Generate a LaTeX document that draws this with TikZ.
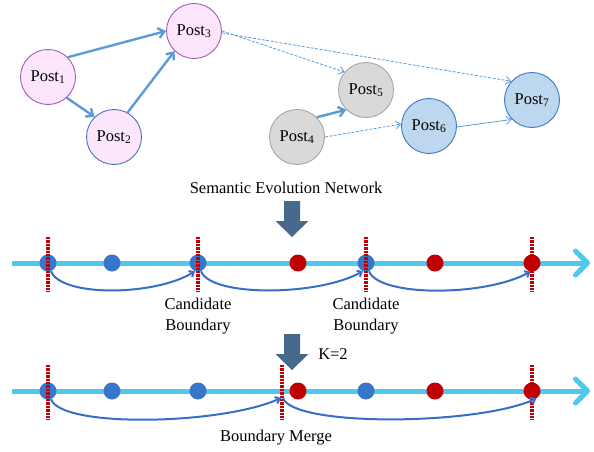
\documentclass[tikz,border=0pt]{standalone}
\usepackage{fontspec}
\setmainfont{Liberation Serif}
\usetikzlibrary{arrows.meta,calc}
\definecolor{edgeblue}{RGB}{91,155,213}
\definecolor{pinkfill}{RGB}{252,230,252}
\definecolor{purpleline}{RGB}{160,90,190}
\definecolor{blueline}{RGB}{68,114,196}
\definecolor{grayfill}{RGB}{217,217,217}
\definecolor{grayline}{RGB}{165,165,165}
\definecolor{lbfill}{RGB}{189,215,238}
\definecolor{dbline}{RGB}{60,120,200}
\definecolor{cyanline}{RGB}{80,200,235}
\definecolor{dotblue}{RGB}{55,118,200}
\definecolor{dotred}{RGB}{192,0,0}
\definecolor{arcblue}{RGB}{55,110,200}
\definecolor{bigarrowc}{RGB}{70,105,140}
\begin{document}
\begin{tikzpicture}[x=1pt,y=-1pt,
  post/.style={circle,minimum size=55pt,inner sep=0pt,line width=0.9pt,font=\fontsize{16.5}{19}\selectfont},
  pink/.style={post,fill=pinkfill,draw=purpleline},
  pinkb/.style={post,fill=pinkfill,draw=blueline},
  grayn/.style={post,fill=grayfill,draw=grayline},
  bluen/.style={post,fill=lbfill,draw=dbline},
  thickedge/.style={draw=edgeblue,line width=2.4pt,-{Straight Barb[length=6pt,width=10pt]}},
  thinedge/.style={draw=edgeblue,line width=0.8pt,-{Straight Barb[length=5pt,width=8pt]}},
  dashedge/.style={thinedge,dash pattern=on 3pt off 1.5pt},
  lbl/.style={font=\fontsize{16.5}{21}\selectfont,align=center,inner sep=0pt},
  dotb/.style={circle,fill=dotblue,minimum size=17pt,inner sep=0pt},
  dotr/.style={circle,fill=dotred,minimum size=17pt,inner sep=0pt},
  bnd/.style={draw=dotred,line width=3.2pt,dash pattern=on 2.4pt off 1pt},
  timeline/.style={draw=cyanline,line width=5pt,-{Straight Barb[length=12pt,width=24pt,round]}},
  arcc/.style={draw=arcblue,line width=2pt,-{Straight Barb[length=4pt,width=7pt]}},
  bigarrow/.pic={\fill[bigarrowc] (-8,0) -- (8,0) -- (8,20) -- (16.5,20) -- (0,36) -- (-16.5,20) -- (-8,20) -- cycle;}
]
\useasboundingbox (0,0) rectangle (594,452);

% --- network ---
\node[pink]  (p1) at (48,77)   {Post\textsubscript{1}};
\node[pinkb] (p2) at (114,137) {Post\textsubscript{2}};
\node[pink]  (p3) at (194,31)  {Post\textsubscript{3}};
\node[grayn] (p4) at (297,137) {Post\textsubscript{4}};
\node[grayn] (p5) at (366,90)  {Post\textsubscript{5}};
\node[bluen] (p6) at (429,126) {Post\textsubscript{6}};
\node[bluen] (p7) at (532,100) {Post\textsubscript{7}};

\draw[thickedge] (p1.45) -- (p3.west);
\draw[thickedge] (p1.-48) -- (p2.134);
\draw[thickedge] (p2.61) -- (p3.-134);
\draw[dashedge] (p3.east) -- (p5.140);
\draw[dashedge] (p3.-4) -- (p7.138);
\draw[thickedge] (p4.45) -- (p5.-135);
\draw[dashedge] (p4.east) -- (p6.176);
\draw[thinedge] (p6.-2) -- (p7.-136);

\node[lbl] (title) at (286,188) {Semantic Evolution Network};

\pic at (292,201) {bigarrow};

% --- timeline 1 ---
\coordinate (s1) at (12,263);
\coordinate (e1) at (590,263);
\draw[timeline] (s1) -- (e1);
\node[dotb] (a1) at (48,263) {};
\node[dotb] (a2) at (112,263) {};
\node[dotb] (a3) at (198,263) {};
\node[dotr] (a4) at (298,263) {};
\node[dotb] (a5) at (366,263) {};
\node[dotr] (a6) at (435,263) {};
\node[dotr] (a7) at (532,263) {};
\foreach \x in {48,198,366,532} \draw[bnd] (\x,237) -- (\x,292);
\draw[arcc] (a1.-70) .. controls +(10,26) and +(-40,25) .. (a3.-110);
\draw[arcc] (a3.-70) .. controls +(10,26) and +(-45,25) .. (a5.-110);
\draw[arcc] (a5.-70) .. controls +(10,26) and +(-45,25) .. (a7.-100);
\node[lbl] (c1) at (198,316) {Candidate\\Boundary};
\node[lbl] (c2) at (366,316) {Candidate\\Boundary};

\pic at (292,334) {bigarrow};
\node[lbl] (k) at (333,354) {K=2};

% --- timeline 2 ---
\coordinate (s2) at (12,391);
\coordinate (e2) at (590,391);
\draw[timeline] (s2) -- (e2);
\node[dotb] (b1) at (48,391) {};
\node[dotb] (b2) at (112,391) {};
\node[dotb] (b3) at (198,391) {};
\node[dotr] (b4) at (298,391) {};
\node[dotb] (b5) at (366,391) {};
\node[dotr] (b6) at (435,391) {};
\node[dotr] (b7) at (532,391) {};
\coordinate (m) at (282,391);
\foreach \x in {48,282,532} \draw[bnd] (\x,365) -- (\x,420);
\draw[arcc] (b1.-70) .. controls +(10,29) and +(-60,27) .. ($(m)+(-1,7)$);
\draw[arcc] ($(m)+(1,7)$) .. controls +(10,29) and +(-60,27) .. (b7.-60);
\node[lbl] (merge) at (276,438) {Boundary Merge};
\end{tikzpicture}
\end{document}
